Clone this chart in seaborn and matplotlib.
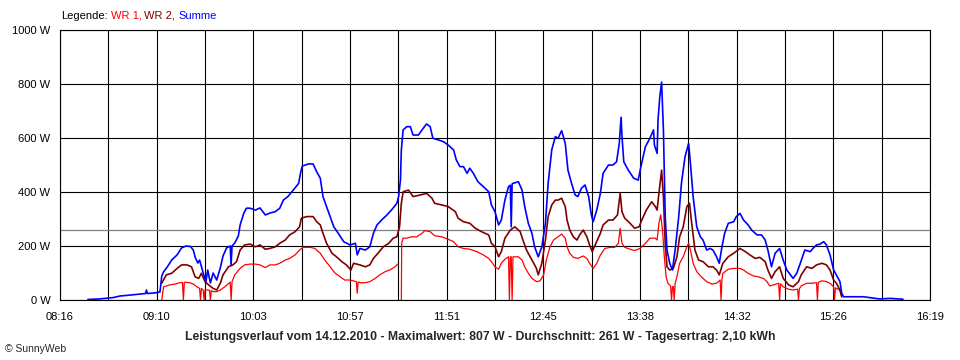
import numpy as np
import pandas as pd
import matplotlib
matplotlib.use("Agg")
import matplotlib.pyplot as plt
import seaborn as sns

# time axis: minutes after midnight (08:16 = 496, 16:19 = 979)
tick_labels = ["08:16", "09:10", "10:03", "10:57", "11:51",
               "12:45", "13:38", "14:32", "15:26", "16:19"]
y_values = [0, 200, 400, 600, 800, 1000]
average = 261

# Summe (blue): (minute of day, watt)
summe = [
    (511.5, 2), (518, 4), (521, 6), (525.5, 9), (529.5, 15), (533, 17), (537.5, 20), (543.5, 24),
    (544, 37), (544.5, 24), (549.5, 27), (551.5, 30), (552.5, 89), (553.5, 104), (555.5, 122),
    (558, 148), (561, 167), (563.5, 193), (566, 200), (568.5, 198), (570, 185), (571, 159),
    (572.5, 137), (573.5, 148), (575.5, 100), (577, 67), (578, 111), (579.5, 63), (581, 100),
    (583, 74), (585, 119), (586.5, 163), (588.5, 193), (590.5, 200), (591, 130), (591.5, 200),
    (593, 211), (595, 237), (596, 278), (598, 321), (599.5, 340), (601.5, 340), (604.5, 333),
    (607, 341), (610, 315), (612.5, 322), (615.5, 327), (618, 340), (620, 370), (622.5, 383),
    (625.5, 407), (628.5, 432), (629.5, 469), (630.5, 496), (634, 504), (636.5, 504), (638.5, 475),
    (640.5, 451), (642, 383), (644, 346), (646, 309), (648, 271), (650.5, 247), (653.5, 216),
    (657, 204), (660, 210), (661, 167), (662.5, 191), (665.5, 185), (668, 197), (670, 247),
    (672, 278), (674.5, 296), (677.5, 315), (680, 333), (683, 358), (684, 383), (685, 444),
    (685.5, 556), (686.5, 630), (688.5, 642), (690.5, 642), (692, 611), (695, 611), (697, 630),
    (699.5, 652), (701.5, 642), (703, 599), (706, 593), (709, 586), (711.5, 574), (714.5, 556),
    (716, 519), (718, 494), (720, 494), (722, 469), (723.5, 488), (725.5, 469), (728, 438),
    (731, 420), (734, 401), (735.5, 352), (737.5, 327), (739.5, 278), (741, 296), (743, 370),
    (745, 420), (746, 425), (746.5, 271), (747, 430), (747.5, 432), (750.5, 438), (752.5, 407),
    (754, 346), (756, 284), (758, 247), (759.5, 197), (761.5, 160), (763.5, 197), (765.5, 284),
    (767, 432), (769, 556), (771, 605), (772.5, 599), (774.5, 627), (776.5, 580), (778, 481),
    (780, 432), (782, 389), (783.5, 383), (785.5, 414), (787.5, 426), (789.5, 383), (791, 315),
    (792, 290), (794, 333), (796, 395), (797.5, 469), (800.5, 500), (803, 500), (805, 512),
    (806.5, 580), (807.5, 677), (808, 605), (809, 512), (811.5, 481), (814.5, 451), (817, 444),
    (818.5, 494), (821, 568), (823.5, 599), (825.5, 630), (826, 574), (827.5, 543), (828, 667),
    (829, 753), (830, 807), (831, 630), (832, 309), (833, 185), (834.5, 136), (836, 111),
    (837.5, 185), (839.5, 309), (841, 432), (843, 531), (845, 580), (846, 506), (847.5, 383),
    (849.5, 271), (851.5, 234), (853, 222), (855, 185), (857, 191), (858.5, 185), (860.5, 160),
    (862, 136), (863.5, 197), (865, 247), (867, 284), (870, 290), (871.5, 309), (873.5, 321),
    (875.5, 296), (878, 278), (880, 259), (883, 241), (885.5, 241), (887.5, 222), (889, 185),
    (891, 123), (893, 173), (895.5, 191), (897.5, 148), (899.5, 111), (901.5, 93), (903, 80),
    (905, 99), (907, 136), (909.5, 185), (912.5, 179), (914, 191), (916, 204), (918, 207),
    (920, 216), (921.5, 204), (923.5, 167), (925.5, 111), (927, 93), (929, 68), (930, 25),
    (931, 12), (942, 12), (951, 4), (957, 6), (964, 3),
]

# WR 2 (dark red)
wr2 = [
    (552.5, 62), (555, 93), (558, 99), (561, 117), (563.5, 130), (566.5, 130), (569, 123),
    (571, 86), (573, 80), (574.5, 99), (576.5, 68), (578.5, 56), (581, 43), (583, 37), (585, 62),
    (586.5, 93), (589.5, 123), (592, 130), (594, 142), (596, 185), (598.5, 204), (601.5, 207),
    (604.5, 197), (607, 204), (610, 188), (612.5, 191), (615.5, 197), (618, 210), (621, 222),
    (623.5, 241), (626.5, 253), (629, 271), (630, 303), (633, 309), (636.5, 309), (638.5, 290),
    (640.5, 278), (642, 247), (644, 210), (647, 173), (649.5, 160), (652.5, 142), (655, 130),
    (657.5, 111), (659, 136), (662.5, 130), (665.5, 123), (668, 130), (670, 154), (672.5, 173),
    (675.5, 197), (678.5, 210), (681, 229), (683, 234), (684.5, 271), (685.5, 358), (686.5, 401),
    (689.5, 407), (692, 383), (696, 389), (699.5, 395), (702.5, 377), (704, 358), (708, 352),
    (711.5, 346), (715.5, 327), (717, 303), (720, 290), (723.5, 284), (726.5, 266), (730, 253),
    (734, 241), (735.5, 210), (737.5, 197), (739.5, 160), (741, 179), (743, 229), (746, 259),
    (748.5, 271), (751.5, 253), (753, 222), (755, 185), (757, 160), (759, 136), (760.5, 117),
    (761.5, 93), (763.5, 136), (765.5, 222), (767, 309), (769, 352), (771, 370), (772.5, 370),
    (774.5, 377), (776.5, 346), (777.5, 296), (779, 259), (781, 234), (783, 222), (784.5, 241),
    (786.5, 259), (788.5, 234), (790, 204), (791.5, 179), (793.5, 210), (796, 247), (797.5, 278),
    (800.5, 296), (803, 296), (805.5, 315), (807, 395), (808, 327), (809.5, 303), (812.5, 284),
    (815, 266), (817.5, 271), (819, 296), (821.5, 333), (824.5, 364), (826.5, 346), (827.5, 333),
    (828.5, 395), (830, 481), (831, 383), (832, 210), (833, 123), (834.5, 111), (836.5, 117),
    (838.5, 160), (840, 234), (842, 271), (844, 346), (845.5, 358), (846.5, 296), (848.5, 185),
    (850.5, 148), (853, 142), (856, 123), (858.5, 123), (860.5, 111), (862, 93), (864, 136),
    (867, 160), (870, 173), (873.5, 191), (876.5, 179), (879, 167), (882, 154), (884.5, 158),
    (887.5, 142), (889, 111), (891, 80), (893, 105), (895.5, 123), (897.5, 80), (900.5, 56),
    (903, 49), (906, 68), (907.5, 93), (910.5, 123), (913.5, 117), (916, 130), (919, 136),
    (921.5, 130), (923.5, 111), (925.5, 74), (927, 62), (929, 37), (930, 12),
]

# WR 1 (red), None = no data
wr1 = [
    (552.5, 0), (553.5, 49), (557, 56), (560, 59), (562.5, 64), (564, 65), (564.5, 0), (565, 65),
    (565.5, 66), (568, 64), (570, 59), (572, 49), (573.5, 43), (574, 0), (574.5, 43), (575.5, 37),
    (576, 0), (576.5, 37), (578.5, 37), (579, 36), (579.5, 0), (580, 35), (581, 31), (583, 31),
    (585, 37), (587.5, 49), (590.5, 66), (591, 0), (591.5, 68), (593, 93), (596, 117),
    (598.5, 130), (601.5, 133), (604.5, 133), (607, 130), (610, 120), (612.5, 130), (615.5, 130),
    (618, 136), (621, 148), (623.5, 154), (626.5, 167), (629, 185), (631, 195), (635, 195),
    (637.5, 191), (640.5, 173), (643, 148), (646, 123), (648.5, 101), (651.5, 86), (654, 74),
    (657, 74), (660.5, 68), (661, 25), (661.5, 67), (662.5, 64), (665.5, 64), (668, 68), (671, 80),
    (673.5, 93), (676.5, 105), (679, 111), (682, 123), (683.5, 133), (684.5, None), (685.5, 0),
    (685.7, 210), (686.5, 229), (688.5, 229), (691, 234), (694, 234), (697, 247), (698.5, 257),
    (701.5, 253), (704, 238), (708, 234), (711.5, 225), (714.5, 216), (717, 197), (720, 191),
    (723.5, 188), (727.5, 179), (731, 167), (734, 154), (735.5, 142), (737.5, 123), (739.5, 114),
    (741, 136), (743, 151), (745, 160), (745.5, 0), (746, 160), (746.5, 160), (747, 0),
    (747.5, 160), (750.5, 160), (752.5, 148), (754, 123), (756, 99), (758, 80), (760.5, 68),
    (762.5, 71), (764.5, 93), (766, 148), (768, 197), (770, 222), (772.5, 234), (774.5, 244),
    (776.5, 229), (777.5, 197), (779, 173), (781, 158), (783.5, 154), (786.5, 163), (788.5, 154),
    (790, 136), (792, 117), (794, 136), (796, 167), (798.5, 191), (801.5, 195), (804, 195),
    (806, 210), (807, 266), (808, 210), (809.5, 195), (812.5, 188), (815, 183), (818, 191),
    (821, 210), (823.5, 229), (826.5, 229), (827.5, 222), (828.5, 284), (829.5, 315),
    (830.5, 259), (831.5, 160), (832.5, 86), (833.5, 62), (835, 52), (835.5, 0), (836, 48),
    (836.5, 50), (837, 0), (837.5, 62), (838.5, 86), (840, 136), (842, 160), (844, 197),
    (845, 210), (846, 185), (847.5, 136), (849.5, 105), (852, 86), (855, 68), (858, 59),
    (860.5, 62), (862.5, 74), (863, 0), (863.5, 76), (864, 99), (867, 114), (870, 117),
    (873.5, 117), (875.5, 111), (878, 99), (881, 89), (883.5, 86), (886.5, 80), (888.5, 68),
    (890, 52), (892, 56), (895, 62), (895.5, 0), (896, 60), (897.5, 49), (900.5, 40), (903, 37),
    (905.5, 40), (906, 0), (906.5, 42), (907.5, 52), (910.5, 62), (913.5, 62), (916, 64),
    (916.5, 0), (917, 66), (919, 71), (921.5, 68), (923.5, 62), (925.5, 49), (926, 0),
    (926.5, 45), (927, 43), (929, 37), (930, 12),
]

title = ("Leistungsverlauf vom 14.12.2010 - Maximalwert: 807 W - "
         "Durchschnitt: 261 W - Tagesertrag: 2,10 kWh")


def to_frame(points):
    df = pd.DataFrame(points, columns=["time", "watt"])
    df["watt"] = df["watt"].astype(float)
    # split the line where there is no data
    df["seg"] = df["watt"].isna().cumsum()
    return df.dropna()


sns.set_style("white")
plt.rcParams["font.family"] = ["Liberation Sans", "DejaVu Sans"]

fig = plt.figure(figsize=(9.6, 3.6), dpi=100)
ax = fig.add_axes([60 / 960, 60 / 360, 870 / 960, 270 / 360])

ax.axhline(average, color="#808080", lw=0.9, zorder=1.5)

for points, color, width in [(wr1, "#ff0000", 0.9), (wr2, "#800000", 1.2),
                             (summe, "#0000ff", 1.2)]:
    sns.lineplot(data=to_frame(points), x="time", y="watt", units="seg",
                 estimator=None, sort=False, color=color, lw=width, ax=ax, zorder=2)

ax.set_xlim(496, 979)
ax.set_ylim(0, 1000)

grid_x = np.linspace(496, 979, 19)
x_labels = [""] * len(grid_x)
x_labels[::2] = tick_labels
ax.set_xticks(grid_x)
ax.set_xticklabels(x_labels)
ax.set_yticks(y_values)
ax.set_yticklabels([f"{v} W" for v in y_values])
ax.set_xlabel("")
ax.set_ylabel("")

ax.grid(True, color="black", lw=0.8)
ax.set_axisbelow(True)
for spine in ax.spines.values():
    spine.set_color("black")
    spine.set_linewidth(0.8)
ax.tick_params(axis="both", direction="out", length=5, width=0.8, color="black",
               labelsize=8, labelcolor="black")
ax.tick_params(axis="x", pad=4)
ax.tick_params(axis="y", pad=2)

# legend line above the plot, pieces placed one after another
renderer = fig.canvas.get_renderer()
legend_parts = [("Legende:", "black"), ("WR 1,", "#ff0000"),
                ("WR 2,", "#800000"), ("Summe", "#0000ff")]
x_px = 61
for text, color in legend_parts:
    t = fig.text(x_px / 960, 1 - 16 / 360, text, color=color, fontsize=8,
                 ha="left", va="center")
    x_px = t.get_window_extent(renderer).x1 + 3

fig.text(480 / 960, 1 - 337 / 360, title, fontsize=8.8, fontweight="bold",
         ha="center", va="center")
fig.text(5 / 960, 1 - 349 / 360, "\u00a9 SunnyWeb", fontsize=7.5,
         ha="left", va="center")

fig.savefig("out.png", dpi=100)
